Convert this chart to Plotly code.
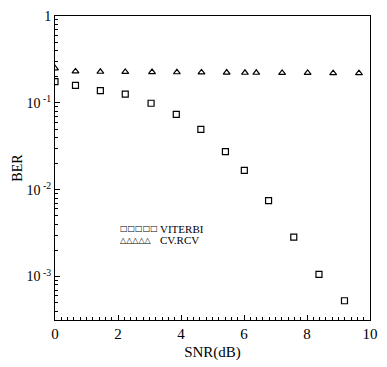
import plotly.graph_objects as go

# Data
snr_viterbi = [0.0, 0.65, 1.44, 2.23, 3.05, 3.85, 4.63, 5.41, 6.01, 6.78, 7.58, 8.38, 9.19]
ber_viterbi = [0.176, 0.159, 0.138, 0.126, 0.099, 0.0738, 0.0496, 0.0275, 0.0167, 0.0075, 0.00284, 0.00106, 0.000527]

snr_cvrcv = [0.0, 0.65, 1.44, 2.23, 3.08, 3.87, 4.65, 5.45, 6.03, 6.39, 7.21, 8.02, 8.83, 9.65]
ber_cvrcv = [0.25, 0.23, 0.228, 0.227, 0.226, 0.225, 0.224, 0.223, 0.222, 0.222, 0.221, 0.221, 0.22, 0.22]

y_tickvals = [1, 0.1, 0.01, 0.001]
y_ticktext = ["1", "10<sup> -1</sup>", "10<sup> -2</sup>", "10<sup> -3</sup>"]
x_tickvals = [0, 2, 4, 6, 8, 10]
y_minor = [m * 10.0 ** e for e in (-4, -3, -2, -1) for m in range(2, 10)]

FONT = "Liberation Serif"

fig = go.Figure()
fig.add_trace(go.Scatter(
    x=snr_viterbi, y=ber_viterbi, mode="markers", name="VITERBI",
    marker=dict(symbol="square-open", size=6, color="black", line=dict(width=1.2)),
))
fig.add_trace(go.Scatter(
    x=snr_cvrcv, y=ber_cvrcv, mode="markers", name="CV.RCV",
    marker=dict(symbol="triangle-up-open", size=6, color="black", line=dict(width=1.2)),
))

fig.update_layout(
    width=387, height=367,
    margin=dict(l=55, r=13, t=9, b=39),
    paper_bgcolor="white", plot_bgcolor="white",
    showlegend=False,
    font=dict(family=FONT, color="black", size=14),
    xaxis=dict(
        range=[0, 10], tickvals=x_tickvals, ticks="inside", ticklen=5,
        tickcolor="black", showline=True, linecolor="black", linewidth=1,
        mirror=True, showgrid=False, zeroline=False,
        minor=dict(dtick=0.2, ticks="inside", ticklen=3, tickcolor="black", showgrid=False),
        title=dict(text="SNR(dB)", standoff=5, font=dict(size=15)),
        tickfont=dict(size=15),
    ),
    yaxis=dict(
        type="log", range=[-3.5, 0], tickvals=y_tickvals, ticktext=y_ticktext,
        ticks="inside", ticklen=5, tickcolor="black",
        showline=True, linecolor="black", linewidth=1, mirror=True,
        showgrid=False, zeroline=False,
        minor=dict(tickvals=y_minor, ticks="inside", ticklen=3, tickcolor="black", showgrid=False),
        title=dict(text="BER", standoff=0, font=dict(size=14)),
        tickfont=dict(size=14),
    ),
)

legend_rows = [("□□□□□", "VITERBI", 0.300), ("△△△△△", "CV.RCV", 0.262)]
for sym, label, yy in legend_rows:
    fig.add_annotation(
        xref="paper", yref="paper", x=0.204, y=yy, xanchor="left", yanchor="middle",
        text=sym, showarrow=False, borderpad=0,
        font=dict(family="DejaVu Sans", size=8, color="black"),
    )
    fig.add_annotation(
        xref="paper", yref="paper", x=0.33, y=yy, xanchor="left", yanchor="middle",
        text=label, showarrow=False, borderpad=0,
        font=dict(family=FONT, size=11, color="black"),
    )

fig.write_html("out.html")
